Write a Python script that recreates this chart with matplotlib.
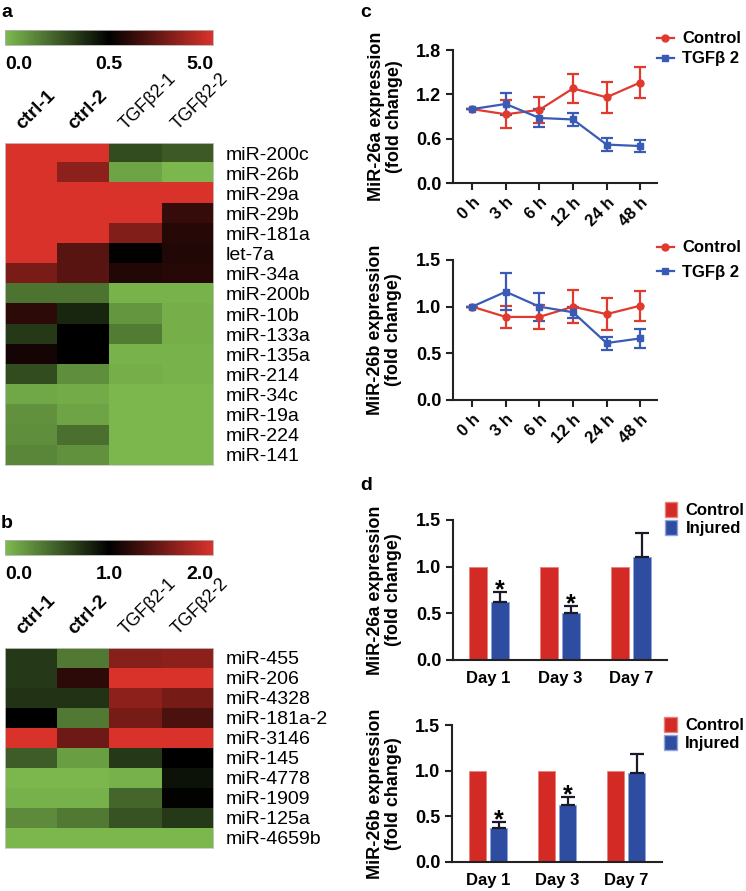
import numpy as np
import matplotlib
matplotlib.use("Agg")
import matplotlib.pyplot as plt
from matplotlib.colors import LinearSegmentedColormap, TwoSlopeNorm
from matplotlib.cm import ScalarMappable
from matplotlib.lines import Line2D
from matplotlib.patches import Patch

plt.rcParams["font.family"] = ["Liberation Sans", "DejaVu Sans"]
plt.rcParams["font.weight"] = "bold"
plt.rcParams["axes.labelweight"] = "bold"

# ---------------- data ----------------
samples = ["ctrl-1", "ctrl-2", "TGFβ2-1", "TGFβ2-2"]

mirs_a = ["miR-200c", "miR-26b", "miR-29a", "miR-29b", "miR-181a", "let-7a",
          "miR-34a", "miR-200b", "miR-10b", "miR-133a", "miR-135a", "miR-214",
          "miR-34c", "miR-19a", "miR-224", "miR-141"]
expr_a = [
    [5.0, 5.0, 0.30, 0.26],
    [5.0, 3.4, 0.06, 0.01],
    [5.0, 5.0, 5.0, 5.0],
    [5.0, 5.0, 5.0, 1.6],
    [5.0, 5.0, 3.2, 1.3],
    [5.0, 2.3, 0.55, 1.2],
    [3.0, 2.3, 1.2, 1.3],
    [0.19, 0.19, 0.02, 0.02],
    [1.4, 0.40, 0.10, 0.03],
    [0.35, 0.50, 0.17, 0.03],
    [0.95, 0.50, 0.02, 0.02],
    [0.30, 0.12, 0.03, 0.02],
    [0.05, 0.04, 0.01, 0.01],
    [0.11, 0.06, 0.01, 0.01],
    [0.12, 0.20, 0.01, 0.01],
    [0.14, 0.11, 0.01, 0.01],
]
cbar_ticks_a = [0.0, 0.5, 5.0]

mirs_b = ["miR-455", "miR-206", "miR-4328", "miR-181a-2", "miR-3146",
          "miR-145", "miR-4778", "miR-1909", "miR-125a", "miR-4659b"]
expr_b = [
    [0.70, 0.35, 1.62, 1.65],
    [0.70, 1.20, 2.00, 2.00],
    [0.72, 0.72, 1.65, 1.55],
    [1.00, 0.35, 1.55, 1.35],
    [2.00, 1.50, 2.00, 2.00],
    [0.50, 0.15, 0.70, 1.00],
    [0.02, 0.02, 0.05, 0.90],
    [0.05, 0.05, 0.45, 0.98],
    [0.25, 0.35, 0.55, 0.70],
    [0.02, 0.02, 0.02, 0.02],
]
cbar_ticks_b = [0.0, 1.0, 2.0]

time_labels = ["0 h", "3 h", "6 h", "12 h", "24 h", "48 h"]
ctrl_26a = [1.0, 0.93, 0.99, 1.28, 1.16, 1.36]
ctrl_26a_err = [0.0, 0.19, 0.18, 0.20, 0.21, 0.21]
tgf_26a = [1.0, 1.07, 0.88, 0.86, 0.52, 0.50]
tgf_26a_err = [0.0, 0.15, 0.12, 0.09, 0.09, 0.08]

ctrl_26b = [1.0, 0.89, 0.89, 1.0, 0.92, 1.01]
ctrl_26b_err = [0.0, 0.12, 0.13, 0.18, 0.17, 0.16]
tgf_26b = [1.0, 1.16, 1.0, 0.94, 0.61, 0.66]
tgf_26b_err = [0.0, 0.20, 0.15, 0.06, 0.07, 0.10]

days = ["Day 1", "Day 3", "Day 7"]
control_bars = [1.0, 1.0, 1.0]
inj_26a = [0.625, 0.50, 1.10]
inj_26a_err = [0.105, 0.08, 0.26]
inj_26b = [0.37, 0.625, 0.97]
inj_26b_err = [0.07, 0.09, 0.21]
signif = [True, True, False]

# ---------------- style ----------------
green = "#7dba4f"
red_hm = "#d9322b"
cmap = LinearSegmentedColormap.from_list("gkr", [green, "#000000", red_hm])
red_line = "#e03a2f"
blue_line = "#3a5bb5"
red_bar = "#d42a26"
blue_bar = "#2e4da0"
spine_c = "#222222"

W, H = 746, 891
fig = plt.figure(figsize=(W / 100, H / 100), dpi=100)


def box(l, t, r, b):
    return fig.add_axes([l / W, 1 - b / H, (r - l) / W, (b - t) / H])


def heatmap(ax, cax, data, rows, norm, ticks):
    ax.imshow(np.array(data), cmap=cmap, norm=norm, aspect="auto",
              interpolation="nearest")
    ax.set_xticks([])
    ax.set_yticks(range(len(rows)))
    ax.set_yticklabels(rows, fontsize=14, fontweight="normal")
    ax.yaxis.tick_right()
    ax.tick_params(axis="y", length=0, pad=9)
    for s in ax.spines.values():
        s.set_color("#c8c8c8")
        s.set_linewidth(0.6)
    for j, name in enumerate(samples):
        is_ctrl = name.startswith("ctrl")
        ax.text(j - 0.12, -1.0, name, rotation=45, rotation_mode="anchor",
                ha="left", va="bottom", fontsize=14 if is_ctrl else 13,
                fontweight="bold" if is_ctrl else "normal", clip_on=False)

    cb = fig.colorbar(ScalarMappable(norm=norm, cmap=cmap), cax=cax,
                      orientation="horizontal")
    cb.set_ticks(ticks)
    cb.set_ticklabels([f"{t:.1f}" for t in ticks])
    cb.outline.set_edgecolor("#b0b0b0")
    cb.outline.set_linewidth(0.6)
    cax.tick_params(length=0, pad=8, labelsize=14)
    labs = cax.get_xticklabels()
    labs[0].set_ha("left")
    labs[-1].set_ha("right")


def style(ax):
    for s in ["top", "right"]:
        ax.spines[s].set_visible(False)
    for s in ["left", "bottom"]:
        ax.spines[s].set_linewidth(1.5)
        ax.spines[s].set_color(spine_c)
    ax.tick_params(width=1.5, length=5, labelsize=13, color=spine_c)


def line_panel(ax, ctrl, ctrl_err, tgf, tgf_err, ymax, yticks, ylabel):
    x = np.arange(len(time_labels))
    ax.errorbar(x, ctrl, yerr=ctrl_err, color=red_line, marker="o", ms=5,
                lw=1.6, elinewidth=1.6, capsize=4.5, capthick=1.6)
    ax.errorbar(x, tgf, yerr=tgf_err, color=blue_line, marker="s", ms=5,
                lw=1.6, elinewidth=1.6, capsize=4.5, capthick=1.6)
    style(ax)
    ax.set_xlim(-0.57, 5.5)
    ax.set_ylim(0, ymax)
    ax.set_yticks(yticks)
    ax.set_yticklabels([f"{v:.1f}" for v in yticks])
    ax.set_xticks(x)
    ax.set_xticklabels(time_labels, rotation=45, ha="right",
                       rotation_mode="anchor", fontsize=12)
    ax.set_ylabel(ylabel, fontsize=13, fontweight="bold", linespacing=1.1)
    ax.yaxis.set_label_coords(-0.245, 0.5)
    handles = [Line2D([], [], color=red_line, marker="o", ms=5, lw=1.6),
               Line2D([], [], color=blue_line, marker="s", ms=5, lw=1.6)]
    return handles


def bar_panel(ax, inj, inj_err, ylabel):
    x = np.arange(len(days))
    w = 0.25
    ax.bar(x - 0.155, control_bars, w, color=red_bar, edgecolor="#e8807a",
           linewidth=0.6)
    ax.bar(x + 0.155, inj, w, color=blue_bar, edgecolor="#8fa6dc",
           linewidth=0.6)
    ax.errorbar(x + 0.155, inj, yerr=[np.zeros(len(inj)), inj_err], fmt="none",
                ecolor="#1a1a2a", elinewidth=1.6, capsize=5, capthick=1.6)
    for i, s in enumerate(signif):
        if s:
            ax.text(x[i] + 0.155, inj[i] + inj_err[i] - 0.06, "*",
                    ha="center", va="baseline", fontsize=18)
    style(ax)
    ax.tick_params(axis="x", length=0, pad=8, labelsize=12)
    ax.set_xlim(-0.5, 2.5)
    ax.set_ylim(0, 1.5)
    ax.set_yticks([0, 0.5, 1.0, 1.5])
    ax.set_yticklabels(["0.0", "0.5", "1.0", "1.5"])
    ax.set_xticks(x)
    ax.set_xticklabels(days)
    ax.set_ylabel(ylabel, fontsize=13, fontweight="bold", linespacing=1.1)
    ax.yaxis.set_label_coords(-0.238, 0.5)
    return [Patch(facecolor=red_bar, edgecolor="#e8807a"),
            Patch(facecolor=blue_bar, edgecolor="#8fa6dc")]


# ---------------- panels a, b ----------------
heatmap(box(5, 143, 213, 465), box(5, 30, 213, 45), expr_a, mirs_a,
        TwoSlopeNorm(vmin=0.0, vcenter=0.5, vmax=5.0), cbar_ticks_a)
heatmap(box(5, 648, 213, 848), box(5, 540, 213, 555), expr_b, mirs_b,
        TwoSlopeNorm(vmin=0.0, vcenter=1.0, vmax=2.0), cbar_ticks_b)

# ---------------- panel c ----------------
ax_c1 = box(453, 50, 657, 183)
h = line_panel(ax_c1, ctrl_26a, ctrl_26a_err, tgf_26a, tgf_26a_err, 1.8,
               [0.0, 0.6, 1.2, 1.8], "MiR-26a expression\n(fold change)")
ax_c1.legend(h, ["Control", "TGFβ 2"], loc="upper left",
             bbox_to_anchor=(1.0, 1.14), frameon=False,
             prop={"size": 12, "weight": "bold"}, handlelength=1.0,
             handletextpad=0.5, labelspacing=0.3, borderpad=0,
             borderaxespad=0)

ax_c2 = box(453, 260, 657, 400)
h = line_panel(ax_c2, ctrl_26b, ctrl_26b_err, tgf_26b, tgf_26b_err, 1.5,
               [0.0, 0.5, 1.0, 1.5], "MiR-26b expression\n(fold change)")
ax_c2.yaxis.set_label_coords(-0.25, 0.5)
ax_c2.legend(h, ["Control", "TGFβ 2"], loc="upper left",
             bbox_to_anchor=(1.0, 1.14), frameon=False,
             prop={"size": 12, "weight": "bold"}, handlelength=1.0,
             handletextpad=0.5, labelspacing=0.55, borderpad=0,
             borderaxespad=0)

# ---------------- panel d ----------------
ax_d1 = box(453, 520, 667, 660)
h = bar_panel(ax_d1, inj_26a, inj_26a_err, "MiR-26a expression\n(fold change)")
ax_d1.legend(h, ["Control", "Injured"], loc="upper left",
             bbox_to_anchor=(0.99, 1.13), frameon=False,
             prop={"size": 12, "weight": "bold"}, handlelength=0.75,
             handleheight=1.0, handletextpad=0.5, labelspacing=0.1,
             borderpad=0, borderaxespad=0)

ax_d2 = box(452, 725, 662, 862)
h = bar_panel(ax_d2, inj_26b, inj_26b_err, "MiR-26b expression\n(fold change)")
ax_d2.set_xlim(-0.52, 2.52)
ax_d2.legend(h, ["Control", "Injured"], loc="upper left",
             bbox_to_anchor=(1.01, 1.06), frameon=False,
             prop={"size": 12, "weight": "bold"}, handlelength=0.75,
             handleheight=1.0, handletextpad=0.5, labelspacing=0.1,
             borderpad=0, borderaxespad=0)

# ---------------- panel letters ----------------
for letter, px, py in [("a", 1, 17), ("b", 1, 528), ("c", 360, 17), ("d", 360, 490)]:
    fig.text(px / W, 1 - py / H, letter, fontsize=14, fontweight="bold",
             va="baseline", ha="left")

fig.savefig("out.png", dpi=100)
